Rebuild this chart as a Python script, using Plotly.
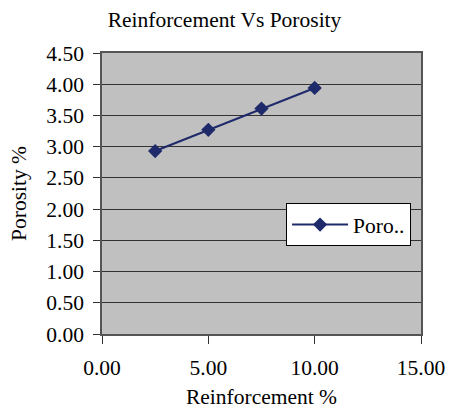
import plotly.graph_objects as go

reinforcement = [2.5, 5.0, 7.5, 10.0]
porosity = [2.93, 3.27, 3.61, 3.94]
series_name = "Poro.."

fig = go.Figure()
fig.add_trace(go.Scatter(
    x=reinforcement, y=porosity, mode="lines+markers", name=series_name,
    line=dict(color="#1f2a6b", width=2),
    marker=dict(symbol="diamond", size=11, color="#1f2a6b"),
    showlegend=True,
))

font_family = "Liberation Serif, Times New Roman, serif"
fs = 21.5
fig.update_layout(
    width=449, height=409,
    margin=dict(l=102, r=28, t=53, b=75),
    paper_bgcolor="white", plot_bgcolor="#c0c0c0",
    font=dict(family=font_family, size=fs, color="black"),
    title=dict(text="Reinforcement Vs Porosity", x=0.5, xanchor="center",
               y=1 - 19/409, yanchor="middle", font=dict(size=fs)),
    xaxis=dict(range=[0, 15], tickvals=[0, 5, 10, 15], tickformat=".2f",
               showgrid=False, zeroline=False, ticks="outside", ticklen=8,
               tickcolor="#333", showline=True, linecolor="#555", linewidth=1.5,
               mirror=True, automargin=False, ticklabelstandoff=5,
               title=dict(text="Reinforcement %", font=dict(size=fs), standoff=23)),
    yaxis=dict(range=[0, 4.5], dtick=0.5, tickformat=".2f",
               showgrid=True, gridcolor="#333", gridwidth=1.2, zeroline=False,
               ticks="outside", ticklen=7, tickcolor="#333",
               showline=True, linecolor="#555", linewidth=1.5, mirror=True,
               automargin=False, ticklabelstandoff=5,
               title=dict(text="Porosity %", font=dict(size=fs), standoff=14)),
    legend=dict(x=0.577, y=0.466, xanchor="left", yanchor="top",
                bgcolor="white", bordercolor="black", borderwidth=1,
                itemwidth=56, font=dict(size=fs)),
)
fig.write_html("out.html")
